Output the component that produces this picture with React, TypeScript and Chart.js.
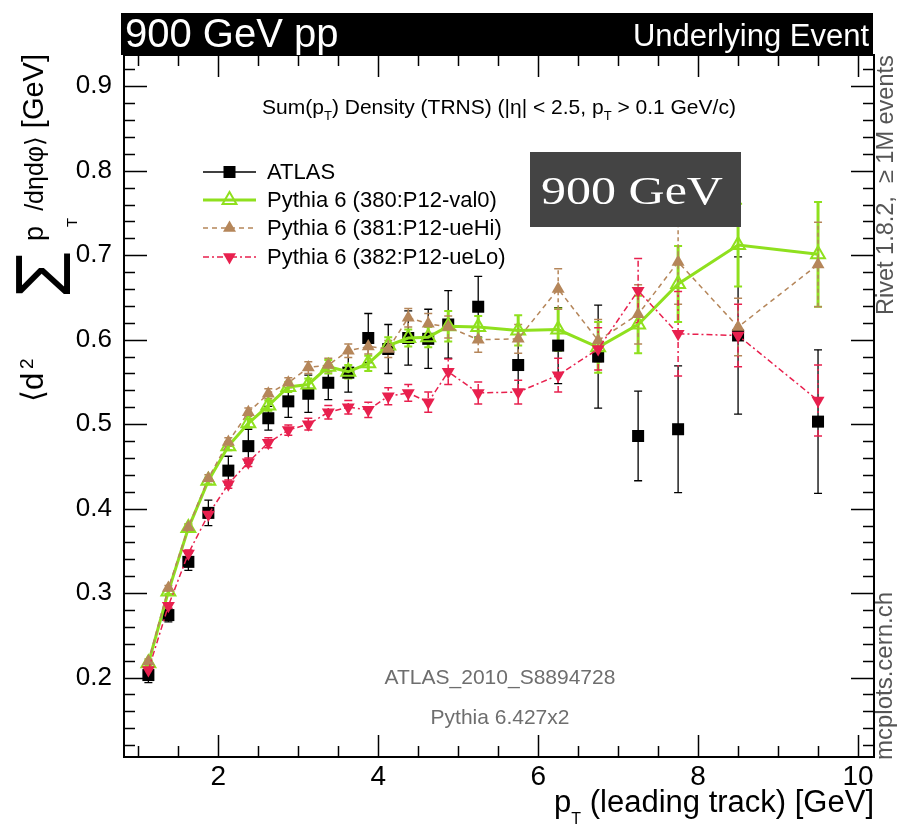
import React, { useEffect, useRef } from 'react';
import { Chart, registerables } from 'chart.js';

Chart.register(...registerables);

// ---- data ----
const ptBins = [1.125, 1.375, 1.625, 1.875, 2.125, 2.375, 2.625, 2.875, 3.125, 3.375, 3.625, 3.875, 4.125, 4.375, 4.625, 4.875, 5.25, 5.75, 6.25, 6.75, 7.25, 7.75, 8.5, 9.5];

const atlasValues = [0.203, 0.274, 0.337, 0.395, 0.445, 0.474, 0.507, 0.527, 0.536, 0.549, 0.561, 0.602, 0.589, 0.602, 0.601, 0.618, 0.639, 0.570, 0.593, 0.580, 0.486, 0.494, 0.605, 0.503];
const atlasErrors = [0.009, 0.008, 0.010, 0.015, 0.017, 0.020, 0.014, 0.019, 0.022, 0.020, 0.023, 0.029, 0.029, 0.032, 0.035, 0.040, 0.036, 0.030, 0.045, 0.061, 0.053, 0.075, 0.093, 0.085];

const val0Values = [0.217, 0.302, 0.377, 0.433, 0.474, 0.501, 0.522, 0.544, 0.547, 0.568, 0.562, 0.572, 0.593, 0.602, 0.603, 0.616, 0.615, 0.611, 0.612, 0.591, 0.618, 0.666, 0.712, 0.701];
const val0Errors = [0.003, 0.003, 0.004, 0.004, 0.005, 0.005, 0.006, 0.006, 0.007, 0.008, 0.008, 0.009, 0.010, 0.010, 0.012, 0.018, 0.013, 0.018, 0.025, 0.030, 0.034, 0.045, 0.049, 0.062];

const ueHiValues = [0.219, 0.306, 0.378, 0.436, 0.479, 0.514, 0.536, 0.549, 0.567, 0.570, 0.587, 0.592, 0.589, 0.626, 0.619, 0.615, 0.600, 0.601, 0.660, 0.599, 0.630, 0.692, 0.615, 0.689];
const ueHiErrors = [0.003, 0.003, 0.004, 0.004, 0.005, 0.005, 0.006, 0.006, 0.007, 0.008, 0.008, 0.009, 0.010, 0.011, 0.012, 0.013, 0.015, 0.017, 0.024, 0.025, 0.035, 0.050, 0.034, 0.050];

const ueLoValues = [0.209, 0.285, 0.347, 0.393, 0.429, 0.455, 0.478, 0.493, 0.500, 0.514, 0.520, 0.517, 0.533, 0.537, 0.526, 0.562, 0.537, 0.538, 0.558, 0.589, 0.658, 0.607, 0.605, 0.528];
const ueLoErrors = [0.003, 0.003, 0.004, 0.004, 0.005, 0.005, 0.006, 0.006, 0.007, 0.008, 0.008, 0.009, 0.010, 0.010, 0.012, 0.015, 0.013, 0.014, 0.020, 0.025, 0.038, 0.050, 0.037, 0.042];

const seriesLabels = ['ATLAS', 'Pythia 6 (380:P12-val0)', 'Pythia 6 (381:P12-ueHi)', 'Pythia 6 (382:P12-ueLo)'];
const xTickLabels = [2, 4, 6, 8, 10];
const yTickLabels = [0.2, 0.3, 0.4, 0.5, 0.6, 0.7, 0.8, 0.9];

const GREEN = '#8fe01e';
const BROWN = '#b5865a';
const RED = '#e8204e';
const SANS = "'Liberation Sans', Arial, Helvetica, sans-serif";
const SERIF = "'Liberation Serif', 'Times New Roman', serif";

type Part = { t: string; size: number; dy?: number; family?: string };

function drawRich(ctx: CanvasRenderingContext2D, parts: Part[], x: number, y: number, align: 'left' | 'right' | 'center') {
  let total = 0;
  const widths = parts.map((p) => {
    ctx.font = `${p.size}px ${p.family || SANS}`;
    const w = ctx.measureText(p.t).width;
    total += w;
    return w;
  });
  let cx = align === 'left' ? x : align === 'right' ? x - total : x - total / 2;
  ctx.textAlign = 'left';
  ctx.textBaseline = 'alphabetic';
  parts.forEach((p, i) => {
    ctx.font = `${p.size}px ${p.family || SANS}`;
    ctx.fillText(p.t, cx, y + (p.dy || 0));
    cx += widths[i];
  });
}

function drawMarker(ctx: CanvasRenderingContext2D, kind: string, x: number, y: number, color: string) {
  ctx.save();
  ctx.setLineDash([]);
  if (kind === 'rect') {
    ctx.fillStyle = color;
    ctx.fillRect(x - 6, y - 6, 12, 12);
  } else {
    const r = kind === 'open' ? 8 : 7.5;
    const dir = kind === 'down' ? -1 : 1;
    ctx.beginPath();
    for (let k = 0; k < 3; k++) {
      const a = (k * 2 * Math.PI) / 3;
      const px = x + Math.sin(a) * r;
      const py = y - dir * Math.cos(a) * r;
      if (k === 0) ctx.moveTo(px, py);
      else ctx.lineTo(px, py);
    }
    ctx.closePath();
    if (kind === 'open') {
      ctx.strokeStyle = color;
      ctx.lineWidth = 2;
      ctx.stroke();
    } else {
      ctx.fillStyle = color;
      ctx.fill();
    }
  }
  ctx.restore();
}

const decorPlugin = {
  id: 'decor',
  beforeDatasetsDraw(chart: any) {
    const { ctx, chartArea: a, scales } = chart;
    const xs = scales.x;
    const ys = scales.y;
    const sets: [number[], number[], string, number, number[]][] = [
      [atlasValues, atlasErrors, '#000', 1.3, []],
      [val0Values, val0Errors, GREEN, 3, []],
      [ueHiValues, ueHiErrors, BROWN, 1.5, [4, 3]],
      [ueLoValues, ueLoErrors, RED, 1.5, [6, 3, 2, 3]],
    ];
    ctx.save();
    ctx.beginPath();
    ctx.rect(a.left, a.top, a.right - a.left, a.bottom - a.top);
    ctx.clip();
    sets.forEach(([vals, errs, color, lw, dash]) => {
      ctx.strokeStyle = color;
      ptBins.forEach((xv, i) => {
        const px = xs.getPixelForValue(xv);
        const lo = ys.getPixelForValue(vals[i] - errs[i]);
        const hi = ys.getPixelForValue(vals[i] + errs[i]);
        ctx.lineWidth = lw;
        ctx.setLineDash(dash);
        ctx.beginPath();
        ctx.moveTo(px, lo);
        ctx.lineTo(px, hi);
        ctx.stroke();
        ctx.setLineDash([]);
        ctx.lineWidth = Math.min(lw, 2);
        ctx.beginPath();
        ctx.moveTo(px - 4, lo);
        ctx.lineTo(px + 4, lo);
        ctx.moveTo(px - 4, hi);
        ctx.lineTo(px + 4, hi);
        ctx.stroke();
      });
    });
    ctx.restore();
  },
  afterDraw(chart: any) {
    const { ctx, chartArea: a, scales } = chart;
    const xs = scales.x;
    const ys = scales.y;
    ctx.save();
    // frame
    ctx.strokeStyle = '#000';
    ctx.lineWidth = 2;
    ctx.strokeRect(a.left, a.top, a.right - a.left, a.bottom - a.top);
    // x ticks
    ctx.lineWidth = 1.5;
    for (let v = 1.0; v <= 10.001; v += 0.5) {
      const px = Math.round(xs.getPixelForValue(v)) + 0.5;
      const major = xTickLabels.some((t) => Math.abs(t - v) < 1e-6);
      const len = major ? 22 : 11;
      ctx.beginPath();
      ctx.moveTo(px, a.bottom);
      ctx.lineTo(px, a.bottom - len);
      ctx.moveTo(px, a.top);
      ctx.lineTo(px, a.top + len);
      ctx.stroke();
    }
    // y ticks
    for (let k = 6; k <= 46; k++) {
      const v = k * 0.02;
      const py = Math.round(ys.getPixelForValue(v)) + 0.5;
      const major = k % 5 === 0;
      const len = major ? 23 : 11;
      ctx.beginPath();
      ctx.moveTo(a.left, py);
      ctx.lineTo(a.left + len, py);
      ctx.moveTo(a.right, py);
      ctx.lineTo(a.right - len, py);
      ctx.stroke();
    }

    // title bar
    ctx.fillStyle = '#000';
    ctx.fillRect(121, 13, 752, 42);
    ctx.fillStyle = '#fff';
    ctx.font = `40px ${SANS}`;
    ctx.textAlign = 'left';
    ctx.textBaseline = 'alphabetic';
    ctx.fillText('900 GeV pp', 125, 47);
    ctx.font = `31px ${SANS}`;
    ctx.textAlign = 'right';
    ctx.fillText('Underlying Event', 869, 46);

    // annotation
    ctx.fillStyle = '#000';
    drawRich(ctx, [
      { t: 'Sum(p', size: 21 },
      { t: 'T', size: 13, dy: 6 },
      { t: ') Density (TRNS) (|\u03b7| < 2.5, p', size: 21 },
      { t: 'T', size: 13, dy: 6 },
      { t: ' > 0.1 GeV/c)', size: 21 },
    ], 499, 114, 'center');

    ctx.fillStyle = '#6e6e6e';
    ctx.font = `21px ${SANS}`;
    ctx.textAlign = 'center';
    ctx.fillText('ATLAS_2010_S8894728', 500, 684);
    ctx.fillText('Pythia 6.427x2', 500, 724);

    // grey energy box
    ctx.fillStyle = '#444444';
    ctx.fillRect(530, 152, 211, 75);
    ctx.save();
    ctx.fillStyle = '#fff';
    ctx.translate(632, 204);
    ctx.scale(1.25, 1);
    ctx.font = `40px ${SERIF}`;
    ctx.textAlign = 'center';
    ctx.fillText('900 GeV', 0, 0);
    ctx.restore();

    // legend
    const rows = [172, 200, 228, 257];
    const kinds = ['rect', 'open', 'up', 'down'];
    const colors = ['#000', GREEN, BROWN, RED];
    const lws = [1.3, 3, 1.5, 1.5];
    const dashes = [[], [], [5, 4], [6, 3, 2, 3]];
    rows.forEach((ry, i) => {
      ctx.strokeStyle = colors[i];
      ctx.lineWidth = lws[i];
      ctx.setLineDash(dashes[i]);
      ctx.beginPath();
      ctx.moveTo(203, ry);
      ctx.lineTo(256, ry);
      ctx.stroke();
      ctx.setLineDash([]);
      drawMarker(ctx, kinds[i], 229.5, ry, colors[i]);
      ctx.fillStyle = '#000';
      ctx.font = `22px ${SANS}`;
      ctx.textAlign = 'left';
      ctx.textBaseline = 'middle';
      ctx.fillText(seriesLabels[i], 267, ry + 1);
    });
    ctx.textBaseline = 'alphabetic';

    // x axis title
    ctx.fillStyle = '#000';
    drawRich(ctx, [
      { t: 'p', size: 31 },
      { t: 'T', size: 16, dy: 12 },
      { t: ' (leading track) [GeV]', size: 31 },
    ], 874, 812, 'right');

    // y axis title (rotated; local x runs upward from page y = 402)
    ctx.save();
    ctx.translate(43, 402);
    ctx.rotate(-Math.PI / 2);
    ctx.fillStyle = '#000';
    ctx.textBaseline = 'alphabetic';
    ctx.textAlign = 'left';
    ctx.font = `31px ${SANS}`;
    ctx.fillText('\u27e8d', 0, 0);
    ctx.font = `19px ${SANS}`;
    ctx.fillText('2', 33, -10);
    ctx.font = `77px ${SANS}`;
    ctx.fillText('\u03a3', 104, 27);
    ctx.font = `27px ${SANS}`;
    ctx.fillText('p', 161, 0);
    ctx.font = `15px ${SANS}`;
    ctx.fillText('T', 175, 34);
    ctx.textAlign = 'right';
    ctx.font = `25px ${SANS}`;
    ctx.fillText('/d\u03b7d\u03c6\u27e9', 266, 0);
    ctx.font = `29px ${SANS}`;
    ctx.fillText('[GeV]', 348, 0);
    ctx.restore();

    // right side rotated texts
    ctx.fillStyle = '#555';
    ctx.save();
    ctx.translate(893, 315);
    ctx.rotate(-Math.PI / 2);
    ctx.font = `23.5px ${SANS}`;
    ctx.textAlign = 'left';
    ctx.fillText('Rivet 1.8.2,  \u2265 1M events', 0, 0);
    ctx.restore();
    ctx.save();
    ctx.translate(892, 760);
    ctx.rotate(-Math.PI / 2);
    ctx.font = `24px ${SANS}`;
    ctx.textAlign = 'left';
    ctx.fillText('mcplots.cern.ch', 0, 0);
    ctx.restore();

    ctx.restore();
  },
};

export default function App() {
  const ref = useRef<HTMLCanvasElement | null>(null);
  useEffect(() => {
    if (!ref.current) return;
    const pts = (vals: number[]) => ptBins.map((x, i) => ({ x, y: vals[i] }));
    const chart = new Chart(ref.current, {
      type: 'scatter',
      data: {
        datasets: [
          {
            label: seriesLabels[0],
            data: pts(atlasValues),
            showLine: false,
            pointStyle: 'rect',
            pointRadius: 8.5,
            pointBackgroundColor: '#000',
            pointBorderColor: '#000',
            pointBorderWidth: 0,
            order: 4,
          },
          {
            label: seriesLabels[1],
            data: pts(val0Values),
            showLine: true,
            borderColor: GREEN,
            borderWidth: 3,
            pointStyle: 'triangle',
            pointRadius: 8,
            pointBackgroundColor: 'rgba(0,0,0,0)',
            pointBorderColor: GREEN,
            pointBorderWidth: 2,
            order: 3,
          },
          {
            label: seriesLabels[2],
            data: pts(ueHiValues),
            showLine: true,
            borderColor: BROWN,
            borderWidth: 1.5,
            borderDash: [5, 4],
            pointStyle: 'triangle',
            pointRadius: 7.5,
            pointBackgroundColor: BROWN,
            pointBorderColor: BROWN,
            pointBorderWidth: 0,
            order: 2,
          },
          {
            label: seriesLabels[3],
            data: pts(ueLoValues),
            showLine: true,
            borderColor: RED,
            borderWidth: 1.5,
            borderDash: [6, 3, 2, 3],
            pointStyle: 'triangle',
            pointRotation: 180,
            pointRadius: 7.5,
            pointBackgroundColor: RED,
            pointBorderColor: RED,
            pointBorderWidth: 0,
            order: 1,
          },
        ],
      },
      options: {
        animation: false,
        responsive: false,
        devicePixelRatio: 1,
        layout: { padding: { left: 0, right: 23, top: 55, bottom: 0 } },
        plugins: { legend: { display: false }, tooltip: { enabled: false } },
        elements: { line: { tension: 0 } },
        scales: {
          x: {
            type: 'linear',
            min: 0.82,
            max: 10.2,
            grid: { display: false, drawTicks: false },
            border: { display: false },
            afterFit: (s: any) => { s.height = 69; },
            afterBuildTicks: (s: any) => { s.ticks = xTickLabels.map((v) => ({ value: v })); },
            ticks: {
              color: '#000',
              font: { family: SANS, size: 28 },
              padding: 3,
              maxRotation: 0,
              autoSkip: false,
            },
          },
          y: {
            type: 'linear',
            min: 0.106,
            max: 0.937,
            grid: { display: false, drawTicks: false },
            border: { display: false },
            afterFit: (s: any) => { s.width = 124; },
            afterBuildTicks: (s: any) => { s.ticks = yTickLabels.map((v) => ({ value: v })); },
            ticks: {
              color: '#000',
              font: { family: SANS, size: 26 },
              padding: 12,
              autoSkip: false,
              callback: (v: any) => Number(v).toFixed(1),
            },
          },
        },
      },
      plugins: [decorPlugin],
    } as any);
    return () => chart.destroy();
  }, []);
  return (
    <div style={{ position: 'fixed', left: 0, top: 0, width: 897, height: 826, background: '#fff' }}>
      <canvas ref={ref} width={897} height={826} style={{ width: 897, height: 826, display: 'block' }} />
    </div>
  );
}
